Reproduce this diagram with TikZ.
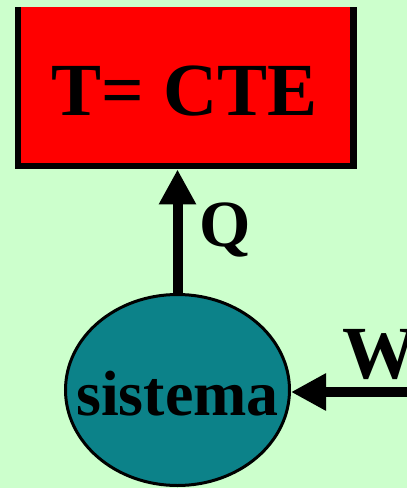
\documentclass[tikz,border=0pt]{standalone}
\usepackage{fontspec}
\setmainfont{Liberation Serif}
\usetikzlibrary{shapes.geometric,arrows.meta}
\definecolor{bg}{HTML}{CCFFCC}
\definecolor{sysfill}{HTML}{0C8289}
\tikzset{
  lbl/.style={inner sep=0pt, text=black},
  flow/.style={line width=10pt, -{Triangle[length=35pt,width=35pt]}},
}
\begin{document}
\begin{tikzpicture}[x=1pt,y=-1pt]
\useasboundingbox (0,0) rectangle (407,488);
\fill[bg] (0,0) rectangle (407,488);
\clip (0,0) rectangle (407,488);
\node[fill=black, minimum width=342pt, minimum height=162pt, inner sep=0pt, anchor=north west] (box) at (15,7) {};
\fill[red] (21,7) rectangle (350,163);
\node[lbl, font=\bfseries\fontsize{75}{75}\selectfont, anchor=base] (t) at (184.5,115) {T= CTE};
\node[ellipse, draw=black, line width=3pt, fill=sysfill, minimum width=224pt, minimum height=191pt, inner sep=0pt] (sys) at (177.5,390) {};
\node[lbl, font=\bfseries\fontsize{64}{64}\selectfont, anchor=base] (st) at (177.5,415) {sistema};
\draw[flow] (sys.north) -- (sys.north |- box.south);
\node[lbl, font=\bfseries\fontsize{66}{66}\selectfont, anchor=base west] (q) at (199,246) {Q};
\coordinate (wr) at (430,392);
\draw[flow] (wr) -- (wr -| sys.east);
\node[lbl, font=\bfseries\fontsize{75}{75}\selectfont, anchor=base west] (w) at (342,378) {W};
\end{tikzpicture}
\end{document}
